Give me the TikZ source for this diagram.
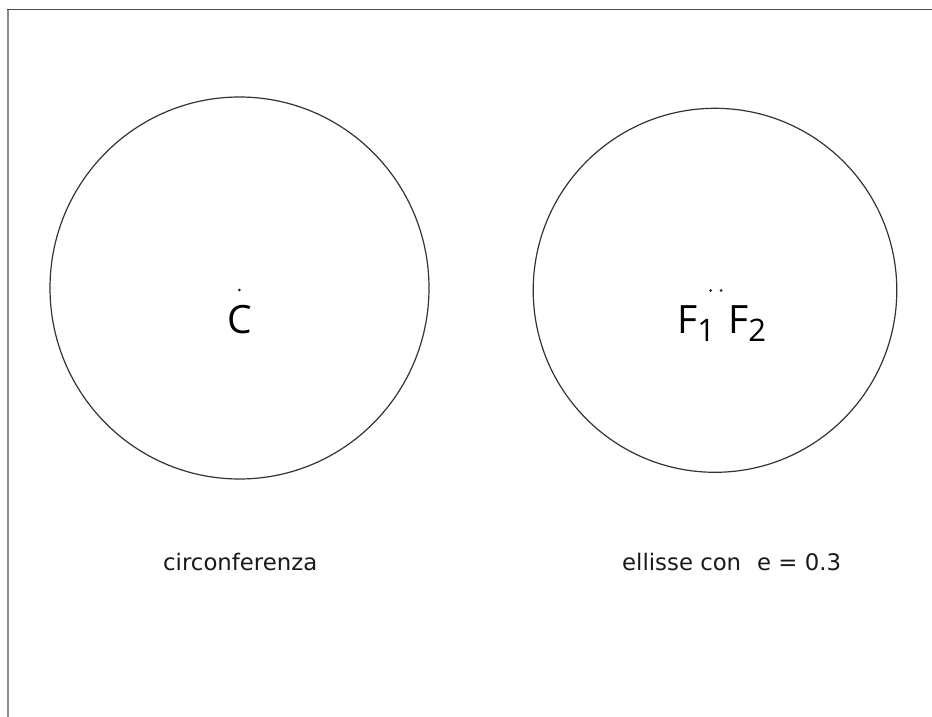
\documentclass[tikz,border=0pt]{standalone}
\usepackage{fontspec}
\setmainfont{Open Sans}
\newfontfamily\capfont{DejaVu Sans}
\begin{document}
\begin{tikzpicture}[x=1pt,y=-1pt,
  curve/.style={draw=black!80, line width=1.2pt},
  pt/.style={fill=black!85},
  biglabel/.style={font=\fontsize{39}{44}\selectfont, anchor=base, inner sep=0pt, text=black},
  caption/.style={font=\capfont\fontsize{22.8}{26}\selectfont, anchor=base west, inner sep=0pt, text=black!90}]
\useasboundingbox (0,0) rectangle (932,717);
% frame
\draw[draw=black!70, line width=1pt] (7,10) -- (932,10);
\draw[draw=black!45, line width=2pt] (7.5,10) -- (7.5,717);
% circle
\draw[curve] (239.5,288) ellipse [x radius=189.5, y radius=191];
\fill[pt] (239.3,290) circle [radius=1.5];
\node[biglabel] (C) at (239.5,333) {C};
% ellipse
\draw[curve] (715,290.3) ellipse [x radius=181.8, y radius=182];
\fill[pt] (710.7,290.5) circle [radius=1.5];
\fill[pt] (721,290.5) circle [radius=1.5];
\node[biglabel, anchor=base west] (F1) at (677,333) {F\raisebox{-8pt}{\fontsize{31}{34}\selectfont 1}};
\node[biglabel, anchor=base west] (F2) at (728,333) {F\raisebox{-8pt}{\fontsize{31}{34}\selectfont 2}};
% captions
\node[caption] (c1) at (163,570) {circonferenza};
\node[caption] (c2) at (622,570) {ellisse con\hspace{0.7em}e = 0.3};
\end{tikzpicture}
\end{document}
